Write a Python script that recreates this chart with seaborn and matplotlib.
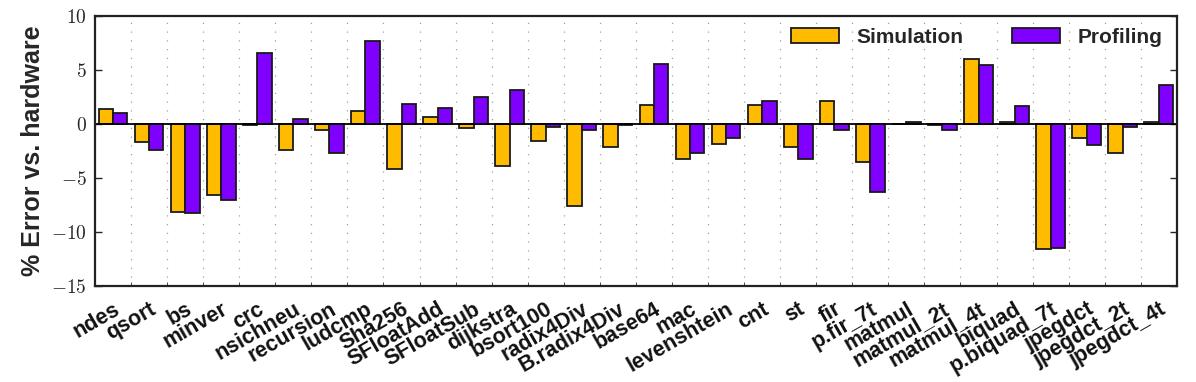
import matplotlib
matplotlib.use("Agg")
import matplotlib.pyplot as plt
from matplotlib.ticker import FixedLocator, FuncFormatter
import seaborn as sns
import pandas as pd
import numpy as np

benchmarks = ['ndes', 'qsort', 'bs', 'minver', 'crc', 'nsichneu', 'recursion', 'ludcmp',
              'Sha256', 'SFloatAdd', 'SFloatSub', 'dijkstra', 'bsort100', 'radix4Div',
              'B.radix4Div', 'base64', 'mac', 'levenshtein', 'cnt', 'st', 'fir', 'p.fir_7t',
              'matmul', 'matmul_2t', 'matmul_4t', 'biquad', 'p.biquad_7t', 'jpegdct',
              'jpegdct_2t', 'jpegdct_4t']

simulation = [1.4, -1.7, -8.1, -6.6, -0.12, -2.4, -0.55, 1.25,
              -4.2, 0.7, -0.4, -3.9, -1.55, -7.6,
              -2.1, 1.8, -3.2, -1.8, 1.8, -2.1, 2.1, -3.5,
              0.0, -0.12, 6.0, 0.15, -11.6, -1.25,
              -2.65, 0.15]

profiling = [1.0, -2.4, -8.25, -7.0, 6.6, 0.45, -2.65, 7.7,
             1.85, 1.45, 2.5, 3.2, -0.25, -0.55,
             -0.1, 5.6, -2.65, -1.25, 2.1, -3.2, -0.55, -6.3,
             0.15, -0.55, 5.45, 1.7, -11.45, -1.95,
             -0.25, 3.6]

series = ['Simulation', 'Profiling']
colors = ['#FFBB00', '#8000FF']

df = pd.DataFrame({
    'benchmark': benchmarks * 2,
    'error': simulation + profiling,
    'source': ['Simulation'] * len(benchmarks) + ['Profiling'] * len(benchmarks),
})

sns.set_style('ticks')
plt.rcParams['font.family'] = ['Liberation Sans', 'DejaVu Sans']
plt.rcParams['mathtext.fontset'] = 'cm'

fig = plt.figure(figsize=(11.96, 3.82), dpi=100)
ax = fig.add_axes([0.0794, 0.251, 0.9046, 0.707])

sns.barplot(data=df, x='benchmark', y='error', hue='source', hue_order=series,
            palette=colors, order=benchmarks, width=0.8, edgecolor='#1a1a1a',
            linewidth=1.3, saturation=1, ax=ax)

n = len(benchmarks)
ax.set_xlim(-0.5, n - 0.5)
ax.set_ylim(-15, 10)
ax.axhline(0, color='black', lw=1.3, zorder=1)

# group boundaries: dotted grid + small ticks
bounds = np.arange(0.5, n - 0.5, 1.0)
ax.xaxis.set_minor_locator(FixedLocator(bounds))
ax.grid(which='minor', axis='x', color='#a0a0a0', linestyle=(0, (1, 6)), lw=0.9)
ax.set_axisbelow(True)

ax.set_yticks(np.arange(-15, 11, 5))
ax.yaxis.set_major_formatter(FuncFormatter(lambda v, p: f'${int(v)}$'))
ax.tick_params(axis='y', which='major', direction='in', length=5, width=1,
               right=True, labelsize=14, pad=6)
ax.tick_params(axis='x', which='major', length=0, pad=9)
ax.tick_params(axis='x', which='minor', direction='in', length=3)

ax.set_xticks(range(n))
ax.set_xticklabels(benchmarks, rotation=30, ha='right', rotation_mode='anchor',
                   fontsize=15.5, fontweight='bold', color='#111111')

ax.set_xlabel('')
ax.set_ylabel('% Error vs. hardware', fontsize=18, fontweight='bold', labelpad=4)

for sp in ax.spines.values():
    sp.set_linewidth(1.6)
    sp.set_color('#222222')

handles, labels = ax.get_legend_handles_labels()
ax.legend(handles, labels, loc='upper right', ncol=2, frameon=False,
          prop={'size': 15, 'weight': 'bold'}, handlelength=2.3, handleheight=0.75,
          handletextpad=0.85, columnspacing=2.3, borderaxespad=0.15,
          bbox_to_anchor=(0.997, 1.0))

fig.savefig('out.png', dpi=100)
